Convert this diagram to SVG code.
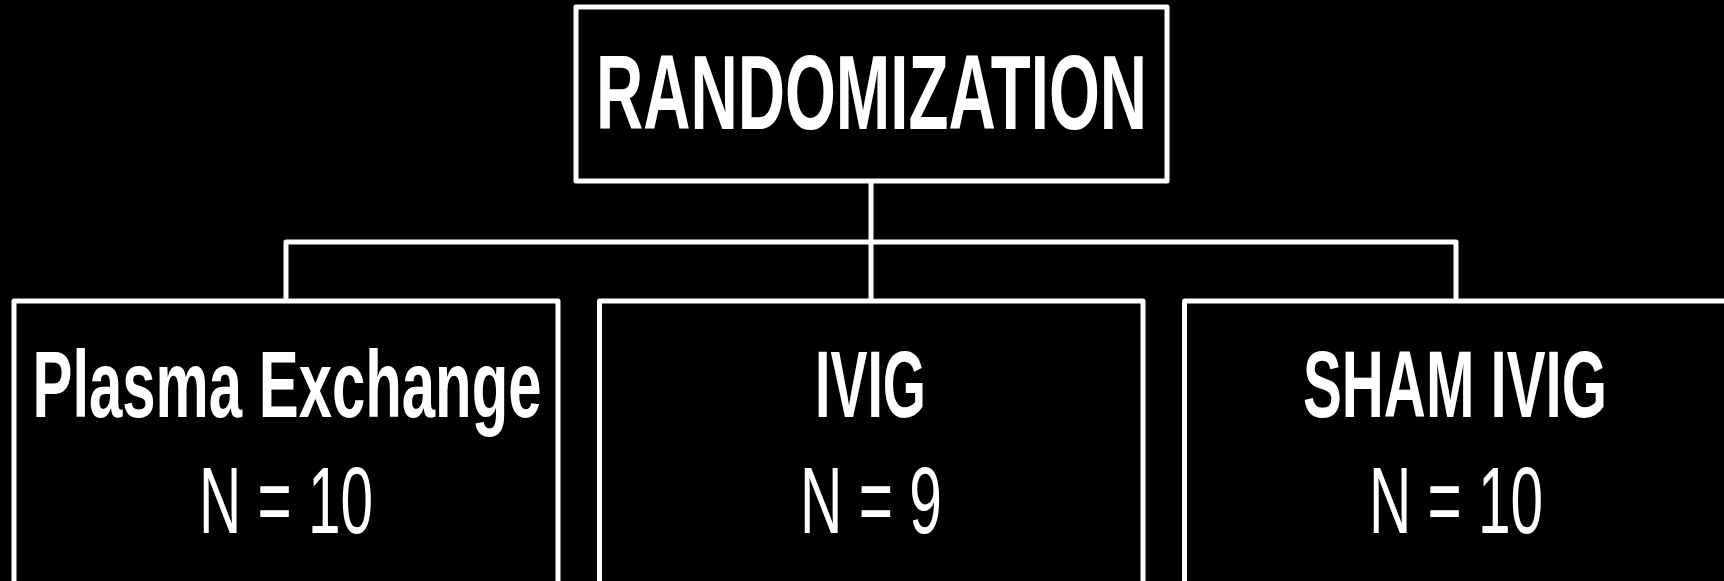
<svg xmlns="http://www.w3.org/2000/svg" width="1724" height="581" viewBox="0 0 1724 581">
<style>
.box{fill:#000;stroke:#fff;stroke-width:5;stroke-linejoin:round}
.conn{fill:none;stroke:#fff;stroke-width:5;stroke-linejoin:round}
.t{fill:#fff;font-family:"Liberation Sans",Arial,sans-serif;text-anchor:middle}
.b{font-weight:bold}
</style>
<rect x="0" y="0" width="1724" height="581" fill="#000"/>
<g id="connectors">
<path class="conn" d="M871,181 V242"/>
<path class="conn" d="M286,301 V242 H1456 V301"/>
<path class="conn" d="M871,242 V301"/>
</g>
<g id="randomization">
<rect class="box" x="576" y="7" width="591" height="174"/>
<text class="t b" x="871.5" y="129" font-size="105" textLength="551" lengthAdjust="spacingAndGlyphs">RANDOMIZATION</text>
</g>
<g id="plasma">
<rect class="box" x="14" y="301" width="544" height="300"/>
<text class="t b" x="287" y="417" font-size="94" textLength="509" lengthAdjust="spacingAndGlyphs">Plasma Exchange</text>
<text class="t" x="286" y="533" font-size="95" textLength="174" lengthAdjust="spacingAndGlyphs">N = 10</text>
</g>
<g id="ivig">
<rect class="box" x="599.5" y="301" width="543.5" height="300"/>
<text class="t b" x="870.5" y="417" font-size="94" textLength="111" lengthAdjust="spacingAndGlyphs">IVIG</text>
<text class="t" x="871" y="533" font-size="95" textLength="142" lengthAdjust="spacingAndGlyphs">N = 9</text>
</g>
<g id="sham">
<rect class="box" x="1184.5" y="301" width="544" height="300"/>
<text class="t b" x="1455" y="417" font-size="94" textLength="304" lengthAdjust="spacingAndGlyphs">SHAM IVIG</text>
<text class="t" x="1456" y="533" font-size="95" textLength="174" lengthAdjust="spacingAndGlyphs">N = 10</text>
</g>
</svg>
